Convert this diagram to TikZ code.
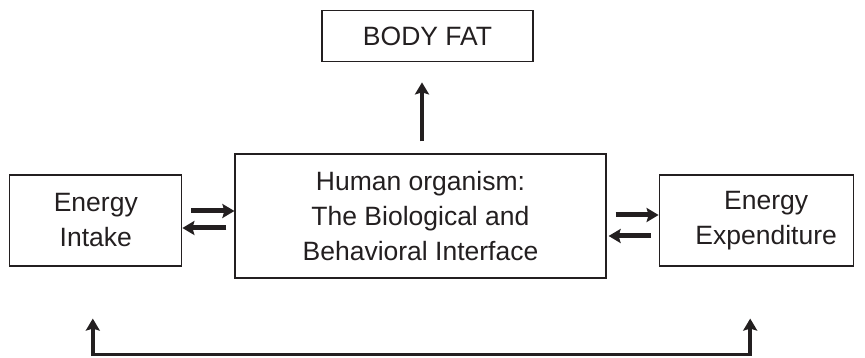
\documentclass[tikz,border=0pt]{standalone}
\usepackage{fontspec}
\setmainfont{Liberation Sans}
\usepackage{xcolor}
\usepackage{tikz}
\usetikzlibrary{arrows.meta,positioning}
\definecolor{ink}{HTML}{231F20}

\begin{document}
\begin{tikzpicture}[
  x=1pt,y=1pt,
  >={Stealth[length=12pt,width=14pt,inset=2pt]},
  box/.style={draw=ink,line width=1.2pt,fill=white,align=center,
              font=\fontsize{26.5}{35}\selectfont,text=ink,inner sep=0pt},
  flow/.style={->,line width=5pt,color=ink},
  rise/.style={->,line width=4pt,color=ink},
  loopback/.style={<->,line width=3.5pt,color=ink,line join=miter}
]
\useasboundingbox (0,0) rectangle (865,358);
\node[box,minimum width=371pt,minimum height=124pt] (human) at (420.5,142)
  {Human organism:\\The Biological and\\Behavioral Interface};
\node[box,minimum width=172pt,minimum height=91pt,left=52pt of human,yshift=-4.5pt] (intake)
  {Energy\\Intake};
\node[box,minimum width=194pt,minimum height=91pt,right=52pt of human,yshift=-4.5pt] (expend)
  {\hspace*{20pt}Energy\\\hspace*{20pt}Expenditure};
\node[box,minimum width=211pt,minimum height=51pt,above=91pt of human,xshift=7pt] (fat)
  {BODY FAT};

\coordinate[below=88pt of intake.south,xshift=-3pt] (loopL);
\coordinate[below=88pt of expend.south,xshift=-6pt] (loopR);

\draw[flow] ([xshift=9pt,yshift=9.5pt]intake.east) -- ([yshift=5pt]human.west);
\draw[flow] ([xshift=-8pt,yshift=-12pt]human.west) -- ([yshift=-7.5pt]intake.east);
\draw[flow] ([xshift=9pt,yshift=1pt]human.east) -- ([yshift=5.5pt]expend.west);
\draw[flow] ([xshift=-8pt,yshift=-15.5pt]expend.west) -- ([xshift=2pt,yshift=-20pt]human.east);
\draw[rise] ([xshift=1.5pt,yshift=12pt]human.north) -- ([xshift=-5.5pt,yshift=-20pt]fat.south);
\draw[loopback] ([xshift=-3pt,yshift=-52pt]intake.south) -- (loopL) -- (loopR)
  -- ([xshift=-6pt,yshift=-52pt]expend.south);
\end{tikzpicture}
\end{document}
